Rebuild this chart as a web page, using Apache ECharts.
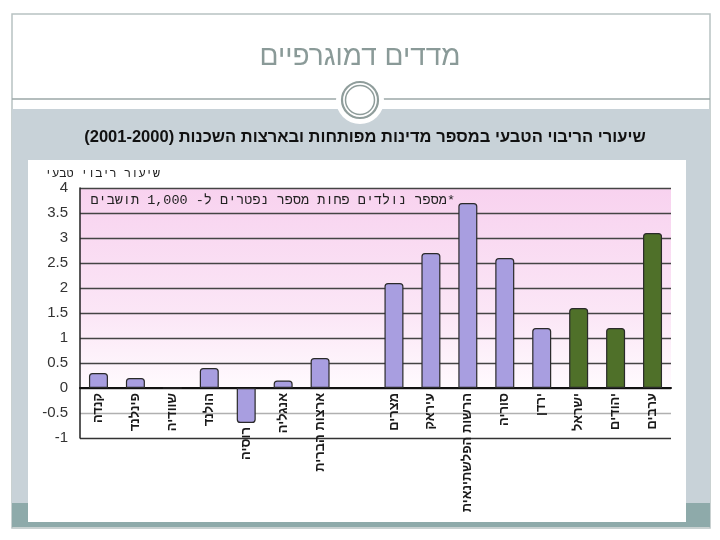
<!DOCTYPE html>
<html>
<head>
<meta charset="utf-8">
<script src="https://cdn.jsdelivr.net/npm/echarts@6/dist/echarts.min.js"></script>
<style>
html,body{margin:0;padding:0;background:#fff;}
#chart{width:720px;height:540px;}
</style>
</head>
<body>
<div id="chart"></div>
<script>
// ---- data ----
const slideTitle = 'מדדים דמוגרפיים';
const chartSubtitle = 'שיעורי הריבוי הטבעי במספר מדינות מפותחות ובארצות השכנות (2001-2000)';
const yAxisTitle = 'שיעור ריבוי טבעי';
const noteText = '\u200F*מספר נולדים פחות מספר נפטרים ל- 1,000 תושבים';
const categories = ['קנדה','פינלנד','שוודיה','הולנד','רוסיה','אנגליה','ארצות הברית','','מצרים','עיראק','הרשות הפלשתינאית','סוריה','ירדן','ישראל','יהודים','ערבים'];
const values = [0.3, 0.2, 0, 0.4, -0.7, 0.15, 0.6, null, 2.1, 2.7, 3.7, 2.6, 1.2, 1.6, 1.2, 3.1];
const groups = ['w','w','w','w','w','w','w','','n','n','n','n','n','i','i','i'];
const yMin = -1, yMax = 4, yStep = 0.5;

const groupColor = { w: '#a89ee0', n: '#a89ee0', i: '#4f7029' };

const barData = values.map((v, i) => ({
  value: v,
  itemStyle: {
    color: groupColor[groups[i]] || '#a89ee0',
    borderColor: '#2a2a2a',
    borderWidth: 1.2,
    borderRadius: v != null && v < 0 ? [0, 0, 3, 3] : [3, 3, 0, 0]
  }
}));

// labels of negative bars are pushed below the bar end
const axisData = categories.map((c, i) => {
  const v = values[i];
  if (v != null && v < 0) {
    return { value: c, textStyle: { padding: [0, 34, 0, 0] } };
  }
  return c;
});

// split line colours: -1, -0.5, 0, 0.5 ... 4
const splitColors = ['#333', '#b0b0b0', '#333', '#444', '#444', '#444', '#444', '#444', '#444', '#444', '#444'];

const chart = echarts.init(document.getElementById('chart'), null, { renderer: 'canvas' });
const font = '"Liberation Sans", Arial, "DejaVu Sans", sans-serif';
const mono = '"Liberation Mono", "DejaVu Sans Mono", monospace';

chart.setOption({
  animation: false,
  backgroundColor: '#ffffff',
  graphic: [
    // slide frame
    { type: 'rect', z: -10, shape: { x: 12, y: 14, width: 698, height: 514 },
      style: { fill: '#ffffff', stroke: '#b8c2c2', lineWidth: 1.5 } },
    { type: 'rect', z: -9, shape: { x: 12, y: 109, width: 698, height: 394 },
      style: { fill: '#c8d2d8' } },
    { type: 'rect', z: -9, shape: { x: 12, y: 503, width: 698, height: 24 },
      style: { fill: '#8eaaaa' } },
    { type: 'rect', z: -8, shape: { x: 28, y: 160, width: 658, height: 362 },
      style: { fill: '#ffffff' } },
    { type: 'line', z: -7, shape: { x1: 12, y1: 99, x2: 710, y2: 99 },
      style: { stroke: '#9ba7a7', lineWidth: 1.5 } },
    { type: 'circle', z: -6, shape: { cx: 360, cy: 100, r: 24 },
      style: { fill: '#ffffff' } },
    { type: 'circle', z: -5, shape: { cx: 360, cy: 100, r: 18 },
      style: { fill: '#ffffff', stroke: '#8f9d9b', lineWidth: 2.2 } },
    { type: 'circle', z: -5, shape: { cx: 360, cy: 100, r: 14.5 },
      style: { fill: 'none', stroke: '#8f9d9b', lineWidth: 1.5 } },
    // texts
    { type: 'text', z: 10, x: 360, y: 57,
      style: { text: slideTitle, font: '28px ' + font, fill: '#8a9a98', align: 'center', verticalAlign: 'middle' } },
    { type: 'text', z: 10, x: 365, y: 137,
      style: { text: chartSubtitle, font: 'bold 16.5px ' + font, fill: '#111', align: 'center', verticalAlign: 'middle' } },
    { type: 'text', z: 10, x: 160, y: 174,
      style: { text: yAxisTitle, font: '12px ' + mono, fill: '#222', align: 'right', verticalAlign: 'middle' } },
    { type: 'text', z: 10, x: 455, y: 200,
      style: { text: noteText, font: '13.5px ' + mono, fill: '#222', align: 'right', verticalAlign: 'middle' } }
  ],
  grid: {
    left: 80, right: 49, top: 188, height: 250,
    outerBoundsMode: 'none',
    containLabel: false,
    show: true,
    borderWidth: 0,
    backgroundColor: new echarts.graphic.LinearGradient(0, 0, 0, 1, [
      { offset: 0, color: '#f8d2ef' },
      { offset: 0.5, color: '#fbe6f6' },
      { offset: 0.8, color: '#fffafe' },
      { offset: 0.81, color: '#ffffff' },
      { offset: 1, color: '#ffffff' }
    ])
  },
  xAxis: {
    type: 'category',
    data: axisData,
    axisLine: { onZero: true, lineStyle: { color: '#111', width: 2 } },
    axisTick: { show: false },
    axisLabel: {
      rotate: 90, interval: 0, margin: -45,
      fontSize: 13, fontWeight: 'bold', color: '#1a1a1a',
      fontFamily: font
    },
    splitLine: { show: false }
  },
  yAxis: {
    type: 'value',
    min: yMin, max: yMax, interval: yStep,
    axisLine: { show: true, lineStyle: { color: '#222', width: 1.5 } },
    axisTick: { show: false },
    axisLabel: { fontSize: 15, color: '#333', margin: 12, fontFamily: font },
    splitLine: { show: true, lineStyle: { color: splitColors, width: 1.3 } }
  },
  series: [{
    type: 'bar',
    data: barData,
    barWidth: 19,
    z: 3
  }]
});
</script>
</body>
</html>
